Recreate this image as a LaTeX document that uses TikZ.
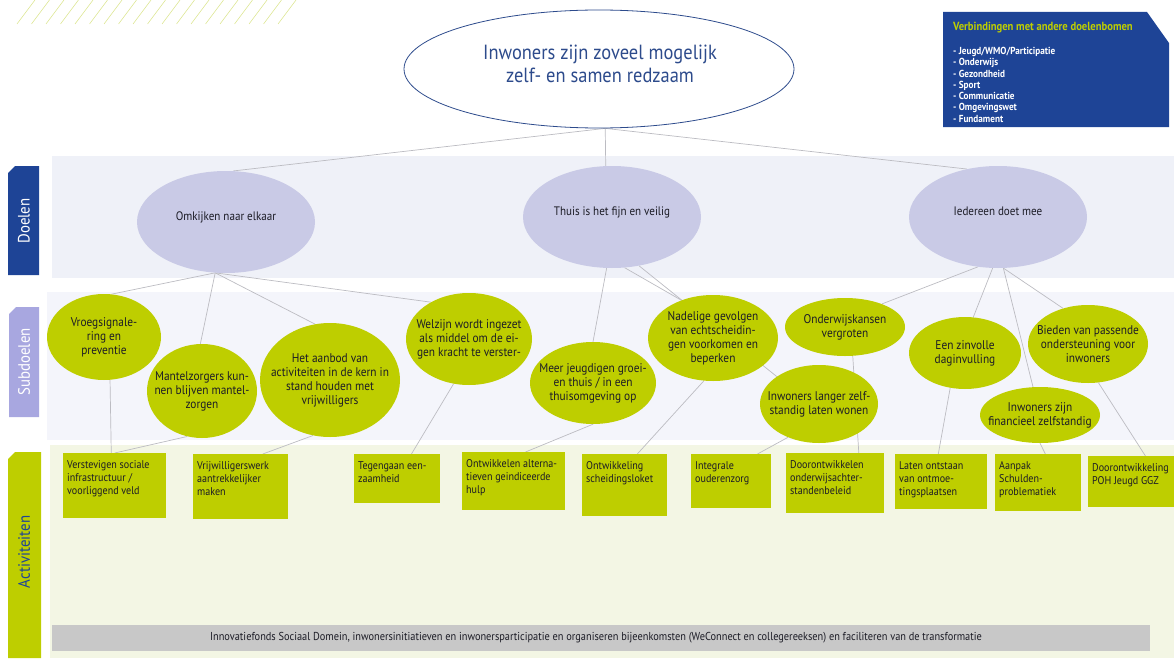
\documentclass[tikz,border=0pt]{standalone}
\usepackage{fontspec}
\setmainfont{PT Sans}[FakeStretch=0.9]
\usetikzlibrary{shapes.geometric,calc}
\pgfdeclarelayer{back}
\pgfdeclarelayer{lines}
\pgfsetlayers{back,lines,main}
\definecolor{dblue}{RGB}{30,68,150}
\definecolor{lav}{RGB}{201,202,230}
\definecolor{lavtab}{RGB}{168,167,224}
\definecolor{lime}{RGB}{190,206,0}
\definecolor{bandA}{RGB}{239,241,248}
\definecolor{bandB}{RGB}{244,245,251}
\definecolor{bandC}{RGB}{243,246,228}
\definecolor{greybar}{RGB}{200,200,200}
\definecolor{conncol}{RGB}{188,188,194}
\definecolor{txt}{RGB}{28,28,38}
\definecolor{titleblue}{RGB}{45,75,140}
\definecolor{hatchcol}{RGB}{222,231,150}
\newcommand\actbox[6]{%
  \node[act] (#1) at (#2,#3) {\parbox[c][\dimexpr#5pt-#3pt\relax][t]{\dimexpr#4pt-#2pt-8pt\relax}{\raggedright\rule{0pt}{15.5pt}#6}};%
}
\begin{document}
\begin{tikzpicture}[x=1pt,y=-1pt,
  goal/.style={ellipse, fill=lav, minimum width=178pt, minimum height=102pt, inner xsep=-20pt, inner ysep=-10pt,
    font=\fontsize{12.3}{14}\selectfont, text=txt, align=center, text height=9pt, text depth=13pt},
  sub/.style={ellipse, fill=lime, inner xsep=-22pt, inner ysep=-12pt, font=\fontsize{12.6}{14}\selectfont,
    text=txt, align=center},
  act/.style={rectangle, fill=lime, anchor=north west, inner xsep=4pt, inner ysep=0pt,
    text=txt, font=\fontsize{11.2}{12.8}\selectfont},
  conn/.style={draw=conncol, line width=0.7pt},
  tabtext/.style={rotate=90, font=\fontsize{16.5}{16.5}\selectfont, inner sep=0pt}]
\useasboundingbox (0,0) rectangle (1174,658);

\begin{pgfonlayer}{back}
  % hatching
  \foreach \k in {0,...,18}
    \draw[hatchcol, line width=0.6pt] ({17+14.5*\k},24) -- ({35+14.5*\k},0);
  % bands
  \fill[bandA] (52,156) rectangle (1174,278);
  \fill[bandB] (47,292) rectangle (1174,440);
  \fill[bandC] (50,445) rectangle (1174,658);
  % bottom bar
  \fill[greybar] (52,625) rectangle (1150,651);
  % tabs
  \fill[dblue] (15,166) -- (39,166) -- (39,275) -- (8,275) -- (8,173) -- cycle;
  \fill[lavtab] (16,307) -- (39,307) -- (39,417) -- (9,417) -- (9,314) -- cycle;
  \fill[lime] (15,452) -- (41,452) -- (41,658) -- (8,658) -- (8,459) -- cycle;
  % info box
  \fill[dblue] (943,12) -- (1147,12) -- (1169,43) -- (1169,127) -- (943,127) -- cycle;
\end{pgfonlayer}

% tab labels
\node[tabtext, text=white] (tD) at (24,221) {Doelen};
\node[tabtext, text=white] (tS) at (24,362) {Subdoelen};
\node[tabtext, text=dblue] (tA) at (24,552) {Activiteiten};

% info box texts
\node[anchor=west, inner sep=0pt, text=lime, font=\bfseries\fontsize{11.8}{13}\selectfont] (infoT) at (953,28) {Verbindingen met andere doelenbomen};
\node[anchor=north west, inner sep=0pt, text=white, align=left, font=\bfseries\fontsize{10.2}{11.3}\selectfont] (infoL) at (953,47)
  {- Jeugd/WMO/Participatie\\- Onderwijs\\- Gezondheid\\- Sport\\- Communicatie\\- Omgevingswet\\- Fundament};

% root
\node[ellipse, draw=titleblue, line width=0.8pt, fill=white, minimum width=390pt, minimum height=118pt,
  inner sep=0pt] (main) at (599,69) {};
\node[inner sep=0pt, text=titleblue, align=center, font=\fontsize{20.5}{22.5}\selectfont] (mainT) at (600,64)
  {Inwoners zijn zoveel mogelijk\\zelf- en samen redzaam};

% goals
\node[goal] (omk) at (226,222) {Omkijken naar elkaar};
\node[goal] (thuis) at (612,217) {Thuis is het fijn en veilig};
\node[goal] (ied) at (998,217) {Iedereen doet mee};

% subgoals
\node[sub, minimum width=114pt, minimum height=86pt] (vroeg) at (104,337) {Vroegsignale-\\ring en\\preventie};
\node[sub, minimum width=110pt, minimum height=94pt] (mantel) at (202,391) {Mantelzorgers kun-\\nen blijven mantel-\\zorgen};
\node[sub, minimum width=140pt, minimum height=114pt] (aanbod) at (330,380) {Het aanbod van\\activiteiten in de kern in\\stand houden met\\vrijwilligers};
\node[sub, minimum width=126pt, minimum height=92pt] (welzijn) at (469,339) {Welzijn wordt ingezet\\als middel om de ei-\\gen kracht te verster-};
\node[sub, minimum width=126pt, minimum height=82pt] (jeugd) at (593,383) {Meer jeugdigen groei-\\en thuis / in een\\thuisomgeving op};
\node[sub, minimum width=130pt, minimum height=86pt] (nadelig) at (713,338) {Nadelige gevolgen\\van echtscheidin-\\gen voorkomen en\\beperken};
\node[sub, minimum width=120pt, minimum height=58pt] (onderw) at (845,327) {Onderwijskansen\\vergroten};
\node[sub, minimum width=118pt, minimum height=78pt] (langer) at (819,404) {Inwoners langer zelf-\\standig laten wonen};
\node[sub, minimum width=112pt, minimum height=72pt] (zinvol) at (965,353) {Een zinvolle\\daginvulling};
\node[sub, minimum width=120pt, minimum height=78pt] (bieden) at (1088,344) {Bieden van passende\\ondersteuning voor\\inwoners};
\node[sub, minimum width=120pt, minimum height=56pt] (financ) at (1040,415) {Inwoners zijn\\financieel zelfstandig};

% activities
\actbox{a1}{63}{453}{166}{518}{Verstevigen sociale\\infrastructuur /\\voorliggend veld}
\actbox{a2}{193}{454}{288}{519}{Vrijwilligerswerk\\aantrekkelijker\\maken}
\actbox{a3}{354}{454}{440}{503}{Tegengaan een-\\zaamheid}
\actbox{a4}{462}{452}{565}{510}{Ontwikkelen alterna-\\tieven geindiceerde\\hulp}
\actbox{a5}{582}{454}{667}{516}{Ontwikkeling\\scheidingsloket}
\actbox{a6}{691}{454}{771}{508}{Integrale\\ouderenzorg}
\actbox{a7}{786}{453}{884}{513}{Doorontwikkelen\\onderwijsachter-\\standenbeleid}
\actbox{a8}{895}{454}{987}{509}{Laten ontstaan\\van ontmoe-\\tingsplaatsen}
\actbox{a9}{995}{454}{1081}{511}{Aanpak\\Schulden-\\problematiek}
\actbox{a10}{1088}{456}{1174}{507}{Doorontwikkeling\\POH Jeugd GGZ}

% bottom bar text
\node[inner sep=0pt, text=txt, font=\fontsize{11.5}{13}\selectfont] (bar) at (596,638)
  {Innovatiefonds Sociaal Domein, inwonersinitiatieven en inwonersparticipatie en organiseren bijeenkomsten (WeConnect en collegereeksen) en faciliteren van de transformatie};

\begin{pgfonlayer}{lines}
  % root to goals
  \draw[conn] (main.-84) -- (omk.82);
  \draw[conn] (main.-84) -- (thuis.97);
  \draw[conn] (main.-84) -- (ied.123);
  % goals to subgoals
  \draw[conn] (omk.-102) -- (vroeg.80);
  \draw[conn] (omk.-102) -- (mantel.92);
  \draw[conn] (omk.-102) -- (aanbod.105);
  \draw[conn] (omk.-102) -- (welzijn.136);
  \draw[conn] (thuis.-96) -- (jeugd.north);
  \draw[conn] (thuis.-76) -- (nadelig.130);
  \draw[conn] (thuis.-61) -- (langer.147);
  \draw[conn] (ied.-112) -- (onderw.32);
  \draw[conn] (ied.-96) -- (zinvol.77);
  \draw[conn] (ied.-84) -- (financ.104);
  \draw[conn] (ied.-84) -- (bieden.125);
  % subgoals to activities
  \draw[conn] (vroeg.-82) -- (a1.96);
  \draw[conn] (mantel.-108) -- (a1.north);
  \draw[conn] (aanbod.-107) -- (a2.56);
  \draw[conn] (welzijn.-109) -- (a3.60);
  \draw[conn] (jeugd.south) -- (a4.68);
  \draw[conn] (nadelig.-102) -- (a5.68);
  \draw[conn] (langer.-133) -- (a6.46);
  \draw[conn] (onderw.-75) -- (a7.52);
  \draw[conn] (zinvol.-113) -- (a8.96);
  \draw[conn] (financ.south) -- (a9.76);
  \draw[conn] (bieden.-75) -- (a10.61);
\end{pgfonlayer}
\end{tikzpicture}
\end{document}
